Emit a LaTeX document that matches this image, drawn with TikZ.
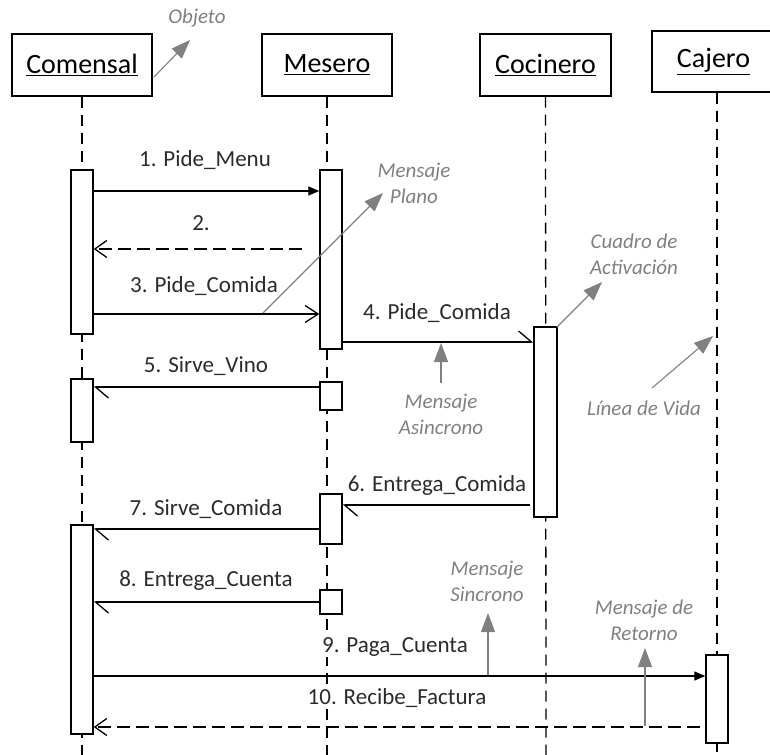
\documentclass[tikz,border=0pt]{standalone}
\usepackage{fontspec}
\setmainfont{Carlito}
\usetikzlibrary{arrows.meta}
\definecolor{notegray}{HTML}{808080}
\definecolor{msgtext}{HTML}{2B2B2B}

\begin{document}
\begin{tikzpicture}[x=1pt,y=-1pt,
  objbox/.style={draw,line width=1.4pt,inner sep=0pt,minimum height=62pt,
    font=\fontsize{28}{32}\selectfont,text=black},
  lifeline/.style={line width=1.3pt,dash pattern=on 11pt off 7pt},
  actbox/.style={draw,fill=white,line width=1.4pt,inner sep=0pt,minimum width=22pt},
  msg/.style={font=\fontsize{23}{26}\selectfont,text=msgtext,inner sep=1pt,fill=white},
  syncmsg/.style={line width=1.3pt,-{Triangle[length=11pt,width=9pt]}},
  callmsg/.style={line width=1.3pt,-{Straight Barb[length=13pt,width=17pt]}},
  asyncmsg/.style={line width=1.3pt,-{Straight Barb[harpoon,length=13pt,width=22pt]}},
  retmsg/.style={line width=1.3pt,dash pattern=on 13pt off 6pt,
    -{Straight Barb[length=12pt,width=17pt]}},
  note/.style={font=\fontsize{21}{26}\selectfont\itshape,text=notegray,
    align=center,inner sep=0pt},
  notearrow/.style={draw=notegray,line width=1.1pt,
    -{Triangle[length=19pt,width=14pt]},color=notegray}
]
\useasboundingbox (0,0) rectangle (770,754);
\clip (0,0) rectangle (770,754);

% object boxes
\node[objbox,minimum width=140pt] (comensal) at (82,65) {\underline{Comensal}};
\node[objbox,minimum width=130pt] (mesero) at (327,65) {\underline{Mesero}};
\node[objbox,minimum width=131pt] (cocinero) at (545.5,65) {\underline{Cocinero}};
\node[objbox,minimum width=123pt,minimum height=61pt] (cajero) at (713.5,61.5) {\underline{Cajero}};

% lifelines
\coordinate (comensalEnd) at (82,760);
\coordinate (meseroEnd) at (327,760);
\coordinate (cocineroEnd) at (546,760);
\coordinate (cajeroEnd) at (717,760);
\draw[lifeline] (comensal.south) -- (comensalEnd);
\draw[lifeline] (mesero.south) -- (meseroEnd);
\draw[lifeline] (cocinero.south) -- (cocineroEnd);
\draw[lifeline] (cajero.south -| cajeroEnd) -- (cajeroEnd);

% activation boxes
\node[actbox,minimum height=164pt] (ca1) at (82,252) {};
\node[actbox,minimum height=63pt]  (ca2) at (82,410.5) {};
\node[actbox,minimum height=209pt] (ca3) at (82,629.5) {};
\node[actbox,minimum height=179pt] (ma1) at (331,259.5) {};
\node[actbox,minimum height=28pt]  (ma2) at (331,396) {};
\node[actbox,minimum height=50pt]  (ma3) at (331,519) {};
\node[actbox,minimum height=24pt]  (ma4) at (331,602) {};
\node[actbox,minimum height=190pt,minimum width=23pt] (co1) at (545.5,422) {};
\node[actbox,minimum height=88pt]  (cj1) at (717,699) {};

% messages
\coordinate (m2start) at (302,249);
\coordinate (m6start) at (530,505);
\coordinate (m10start) at (700,727);
\draw[syncmsg]  (ca1.east |- 0,191) -- (ma1.west |- 0,191);
\draw[retmsg]   (m2start) -- (ca1.east |- m2start);
\draw[callmsg]  (ca1.east |- 0,314) -- (ma1.west |- 0,314);
\draw[asyncmsg] (ma1.east |- 0,342) -- (co1.west |- 0,342);
\draw[asyncmsg] (ma2.west |- 0,387) -- (ca2.east |- 0,387);
\draw[asyncmsg] (m6start) -- (ma3.east |- m6start);
\draw[asyncmsg] (ma3.west |- 0,529) -- (ca3.east |- 0,529);
\draw[asyncmsg] (ma4.west |- 0,602) -- (ca3.east |- 0,602);
\draw[syncmsg]  (ca3.east |- 0,676) -- (cj1.west |- 0,676);
\draw[retmsg]   (m10start) -- (ca3.east |- m10start);

% message labels
\node[msg] (l1) at (205,160) {1. Pide\_Menu};
\node[msg] (l2) at (201,223) {2.};
\node[msg] (l3) at (204,286) {3. Pide\_Comida};
\node[msg] (l4) at (437,313) {4. Pide\_Comida};
\node[msg] (l5) at (206,366) {5. Sirve\_Vino};
\node[msg] (l6) at (437,485) {6. Entrega\_Comida};
\node[msg] (l7) at (206,509) {7. Sirve\_Comida};
\node[msg] (l8) at (206,581) {8. Entrega\_Cuenta};
\node[msg] (l9) at (395,647) {9. Paga\_Cuenta};
\node[msg] (l10) at (397,698) {10. Recibe\_Factura};

% explanatory notes
\node[note] (nObjeto) at (197,18) {Objeto};
\node[note] (nPlano) at (414,183) {Mensaje\\Plano};
\node[note] (nActiv) at (634,254) {Cuadro de\\Activación};
\node[note] (nAsinc) at (441,414) {Mensaje\\Asincrono};
\node[note] (nVida) at (644,408) {Línea de Vida};
\node[note] (nSinc) at (487,581) {Mensaje\\Sincrono};
\node[note] (nRet) at (644,620) {Mensaje de\\Retorno};

\coordinate (aObjA) at (154,77);   \coordinate (aObjB) at (190,40);
\coordinate (aPlaA) at (263,313);  \coordinate (aPlaB) at (383,193);
\coordinate (aActA) at (557,327);  \coordinate (aActB) at (602,282);
\coordinate (aAsiA) at (441,383);  \coordinate (aAsiB) at (441,343);
\coordinate (aVidA) at (652,388);  \coordinate (aVidB) at (713,336);
\coordinate (aSinA) at (488,675);  \coordinate (aSinB) at (488,613);
\coordinate (aRetA) at (645,726);  \coordinate (aRetB) at (645,648);
\draw[notearrow] (aObjA) -- (aObjB);
\draw[notearrow] (aPlaA) -- (aPlaB);
\draw[notearrow] (aActA) -- (aActB);
\draw[notearrow] (aAsiA) -- (aAsiB);
\draw[notearrow] (aVidA) -- (aVidB);
\draw[notearrow] (aSinA) -- (aSinB);
\draw[notearrow] (aRetA) -- (aRetB);
\end{tikzpicture}
\end{document}
